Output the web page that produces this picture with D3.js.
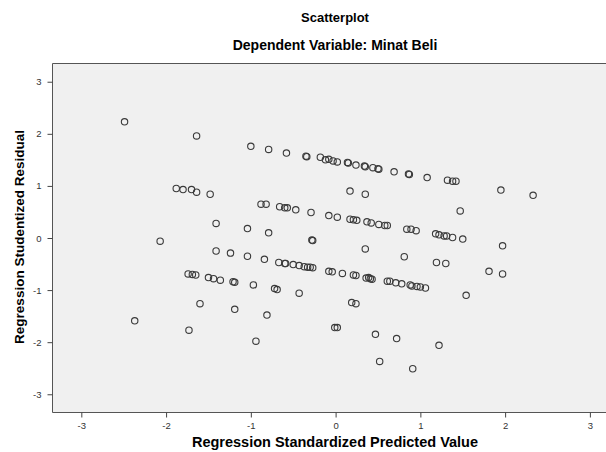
<!DOCTYPE html>
<html>
<head>
<meta charset="utf-8">
<script src="https://cdn.jsdelivr.net/npm/d3@7"></script>
<style>
  body { margin: 0; background: #fff; overflow: hidden; }
  svg { display: block; font-family: Arial, "Liberation Sans", sans-serif; }
</style>
</head>
<body>
<div id="chart"></div>
<script>
// regression standardized predicted value (x) / studentized residual (y)
const predicted = [
  -2.49, -1.64, -1.00, -0.79, -0.58, -0.35, -0.34, -0.18, -0.12, -0.08,
  -0.03, 0.02, 0.14, 0.15, 0.24, 0.35, 0.34, 0.44, 0.51, 0.50,
  0.69, 0.86, 0.87, 1.08, 1.32, 1.38, 1.42, 1.95, 2.33, 0.17,
  0.35, -1.88, -1.80, -1.70, -1.64, -1.48, -0.88, -0.82, -0.66, -0.60,
  -0.57, -0.47, -0.29, -0.08, 0.02, 0.17, 0.21, 0.25, 0.37, 0.42,
  0.51, 0.58, 0.61, 0.84, 0.89, 0.95, 1.18, 1.22, 1.28, 1.31,
  1.38, 1.50, 1.47, -1.41, -1.04, -0.79, -0.28, -0.27, -2.07, 0.35,
  1.97, -1.41, -1.24, -1.04, -0.84, -0.67, -0.60, -0.59, -0.50, -0.43,
  -0.37, -0.33, -0.30, -0.27, -0.08, -0.04, 0.08, 0.21, 0.24, 0.36,
  0.39, 0.41, 0.43, 0.61, 0.64, 0.71, 0.78, 0.88, 0.90, 0.96,
  1.00, 1.06, -1.74, -1.69, -1.65, -1.50, -1.44, -1.36, -1.21, -1.19,
  -0.97, -0.72, -0.69, -0.43, 0.81, 1.19, 1.30, 1.81, 1.97, 1.54,
  -1.60, -1.19, -0.81, -2.37, -1.73, -0.94, -0.01, 0.02, 0.19, 0.24,
  0.47, 0.72, 1.22, 0.52, 0.91
];
const residual = [
  2.23, 1.96, 1.76, 1.70, 1.63, 1.57, 1.56, 1.55, 1.50, 1.51,
  1.48, 1.46, 1.45, 1.44, 1.40, 1.37, 1.38, 1.35, 1.32, 1.33,
  1.27, 1.23, 1.22, 1.16, 1.11, 1.09, 1.09, 0.92, 0.82, 0.90,
  0.84, 0.95, 0.93, 0.93, 0.88, 0.84, 0.65, 0.65, 0.60, 0.58,
  0.58, 0.54, 0.49, 0.43, 0.40, 0.36, 0.35, 0.34, 0.31, 0.29,
  0.26, 0.24, 0.24, 0.17, 0.17, 0.14, 0.08, 0.06, 0.04, 0.04,
  0.01, -0.02, 0.52, 0.28, 0.18, 0.10, -0.04, -0.05, -0.06, -0.21,
  -0.15, -0.25, -0.29, -0.35, -0.41, -0.47, -0.49, -0.49, -0.51, -0.53,
  -0.55, -0.56, -0.56, -0.57, -0.64, -0.65, -0.68, -0.71, -0.72, -0.77,
  -0.76, -0.78, -0.79, -0.83, -0.83, -0.86, -0.88, -0.90, -0.92, -0.93,
  -0.94, -0.96, -0.69, -0.70, -0.71, -0.76, -0.78, -0.81, -0.84, -0.85,
  -0.90, -0.97, -0.99, -1.06, -0.36, -0.47, -0.49, -0.64, -0.69, -1.10,
  -1.26, -1.37, -1.48, -1.59, -1.77, -1.98, -1.72, -1.72, -1.24, -1.26,
  -1.85, -1.93, -2.06, -2.37, -2.51
];
const xTicks = [-3, -2, -1, 0, 1, 2, 3];
const yTicks = [-3, -2, -1, 0, 1, 2, 3];

const width = 606, height = 452;
// plot frame runs past the right edge of the picture (cropped)
const plot = { left: 52.5, top: 63.5, right: 618.7, bottom: 412.5 };

const svg = d3.select("#chart")
  .append("svg")
  .attr("width", width)
  .attr("height", height);

const x = d3.scaleLinear()
  .domain([-3.34, 3.34])
  .range([plot.left, plot.right]);

const y = d3.scaleLinear()
  .domain([-3.35, 3.35])
  .range([plot.bottom, plot.top]);

// plot background
svg.append("rect")
  .attr("x", plot.left)
  .attr("y", plot.top)
  .attr("width", width - plot.left)
  .attr("height", plot.bottom - plot.top)
  .attr("fill", "#f0f0f0");

// frame: top, left, bottom only (right side is outside the picture)
svg.append("path")
  .attr("d", "M" + (width + 2) + "," + plot.top + "H" + plot.left + "V" + plot.bottom + "H" + (width + 2))
  .attr("fill", "none")
  .attr("stroke", "#555")
  .attr("stroke-width", 1);

// axes
const fmt = d => String(d);
const xAxis = svg.append("g")
  .attr("transform", "translate(0," + plot.bottom + ")")
  .call(d3.axisBottom(x).tickValues(xTicks).tickFormat(fmt).tickSize(5).tickSizeOuter(0));
const yAxis = svg.append("g")
  .attr("transform", "translate(" + plot.left + ",0)")
  .call(d3.axisLeft(y).tickValues(yTicks).tickFormat(fmt).tickSize(5).tickSizeOuter(0));

[xAxis, yAxis].forEach(g => {
  g.select(".domain").remove();
  g.selectAll(".tick line").attr("stroke", "#444");
  g.selectAll(".tick text")
    .attr("fill", "#333")
    .style("font-size", "9.5px");
});
xAxis.selectAll(".tick text").attr("y", 10).attr("dy", "0.71em");
yAxis.selectAll(".tick text").attr("x", -11);

// points
svg.append("g")
  .selectAll("circle")
  .data(predicted.map((p, i) => [p, residual[i]]))
  .enter()
  .append("circle")
  .attr("cx", d => x(d[0]))
  .attr("cy", d => y(d[1]))
  .attr("r", 3.2)
  .attr("fill", "none")
  .attr("stroke", "#3a3a3a")
  .attr("stroke-width", 1.1);

// titles
svg.append("text")
  .attr("x", 335).attr("y", 22)
  .attr("text-anchor", "middle")
  .style("font-size", "13px").style("font-weight", "bold")
  .text("Scatterplot");

svg.append("text")
  .attr("x", 335).attr("y", 50)
  .attr("text-anchor", "middle")
  .style("font-size", "14px").style("font-weight", "bold")
  .text("Dependent Variable: Minat Beli");

svg.append("text")
  .attr("x", 335).attr("y", 447)
  .attr("text-anchor", "middle")
  .style("font-size", "14.5px").style("font-weight", "bold")
  .text("Regression Standardized Predicted Value");

svg.append("text")
  .attr("transform", "translate(24,237) rotate(-90)")
  .attr("text-anchor", "middle")
  .style("font-size", "13.5px").style("font-weight", "bold")
  .text("Regression Studentized Residual");
</script>
</body>
</html>
